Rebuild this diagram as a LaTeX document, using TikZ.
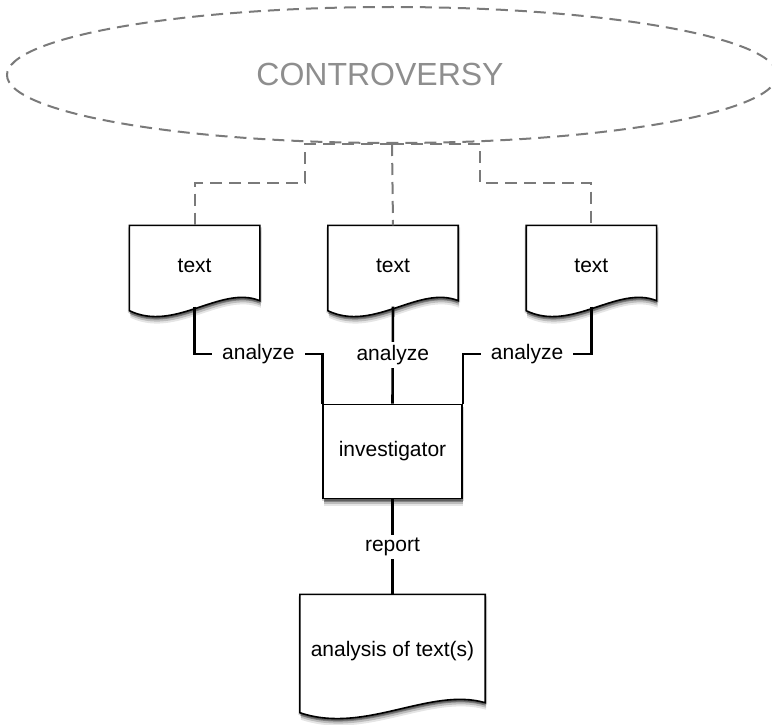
\documentclass[tikz,border=0pt]{standalone}
\usepackage{fontspec}
\setmainfont{Liberation Sans}
\usepackage{tikz}
\usetikzlibrary{
    positioning,
    calc,
    backgrounds,
    shapes.geometric,
    shadows
}
\definecolor{dashgray}{HTML}{7A7A7A}
\definecolor{titlegray}{HTML}{8E8E8E}

\begin{document}
\begin{tikzpicture}[
    x=1pt, y=-1pt,
    every node/.style={
        font=\fontsize{21}{25}\selectfont
    },
    cloud/.style={
        ellipse,
        draw=dashgray,
        line width=2pt,
        dash pattern=on 12pt off 7pt,
        minimum width=770pt,
        minimum height=136pt,
        inner sep=0pt
    },
    title/.style={
        text=titlegray,
        font=\fontsize{32}{38}\selectfont
    },
    softshadow/.style={
        drop shadow={shadow xshift=1pt, shadow yshift=-7pt,
                     opacity=0.10, fill=black},
        drop shadow={shadow xshift=1pt, shadow yshift=-5pt,
                     opacity=0.18, fill=black},
        drop shadow={shadow xshift=0.5pt, shadow yshift=-3pt,
                     opacity=0.30, fill=black},
        drop shadow={shadow xshift=-1.5pt, shadow yshift=-2pt,
                     opacity=0.15, fill=black},
        drop shadow={shadow xshift=2pt, shadow yshift=-2pt,
                     opacity=0.15, fill=black}
    },
    document/.style={
        rectangle,
        minimum width=130pt,
        minimum height=81pt
    },
    docedge/.style={
        draw,
        line width=1.6pt,
        fill=white,
        softshadow
    },
    actor/.style={
        rectangle,
        draw,
        line width=1.6pt,
        fill=white,
        minimum width=139pt,
        minimum height=94pt,
        softshadow
    },
    dashline/.style={
        draw=dashgray,
        line width=2pt,
        dash pattern=on 12pt off 7pt
    },
    conn/.style={
        line width=2.6pt
    },
    lbl/.style={
        fill=white,
        inner xsep=10pt,
        inner ysep=3pt
    }
]

\useasboundingbox (0,0) rectangle (772,725);

% ============================================================
% CONTROVERSY
% ============================================================

\node[cloud] (controversy) at (392,75) {};
\node[title] (controversylabel) at (380,74) {CONTROVERSY};

% ============================================================
% TEXTS
% ============================================================

\node[document] (text2) at (393,266) {text};
\node[document, left=68pt of text2] (text1) {text};
\node[document, right=68pt of text2] (text3) {text};

% ============================================================
% INVESTIGATOR
% ============================================================

\node[actor] (investigator) at (392.5,451.5) {investigator};

% ============================================================
% ANALYSIS
% ============================================================

\node[document, minimum width=185pt, minimum height=114pt,
      below=95pt of investigator] (analysis)
{
analysis of text(s)
};

% wavy document outlines behind the texts
\begin{scope}[on background layer]
\foreach \doc in {text1,text2,text3,analysis}
    \path[docedge]
        (\doc.north west) -- (\doc.north east)
        -- ($(\doc.south east)+(0,-6)$)
        .. controls ($(\doc.south west)!0.7!(\doc.south east)+(0,-22)$)
        and ($(\doc.south west)!0.35!(\doc.south east)+(0,26)$)
        .. ($(\doc.south west)+(0,4)$) -- cycle;
\end{scope}

% ============================================================
% CONNECTIONS
% ============================================================

\coordinate (forkleft) at (305,183);
\coordinate (forkright) at (480,183);
\coordinate (row) at (392,354);

\draw[dashline] (controversy.south) -| (forkleft) -| (text1.north);
\draw[dashline] (controversy.south) -- (text2.north);
\draw[dashline] (controversy.south) -| (forkright) -| (text3.north);

\draw[conn] (text1.south) -- (text1.south |- row)
    -- node[lbl] {analyze} (investigator.north west |- row)
    -- (investigator.north west);
\draw[conn] (text2.south) -- node[lbl] {analyze} (investigator.north);
\draw[conn] (text3.south) -- (text3.south |- row)
    -- node[lbl] {analyze} (investigator.north east |- row)
    -- (investigator.north east);

\draw[conn] (investigator.south) -- node[lbl] {report} (analysis.north);

\end{tikzpicture}
\end{document}
